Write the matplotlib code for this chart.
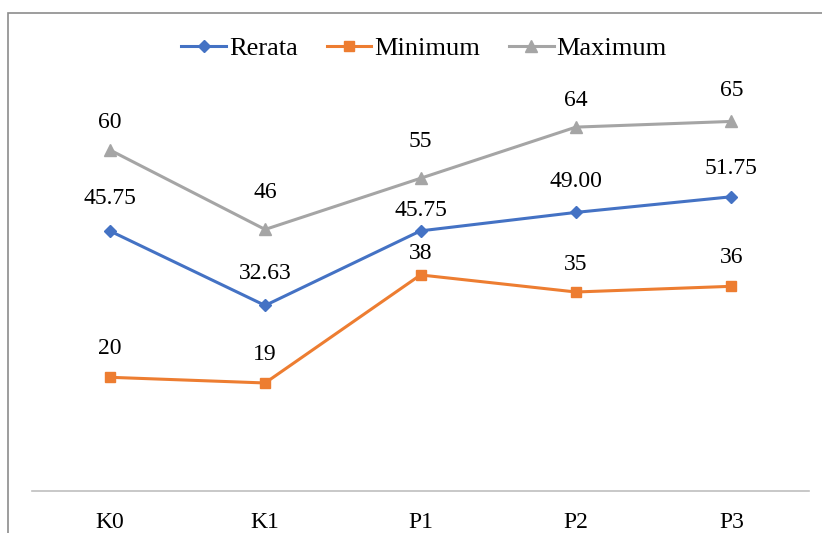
import matplotlib.pyplot as plt
from matplotlib.patches import Rectangle

categories = ["K0", "K1", "P1", "P2", "P3"]
rerata = [45.75, 32.63, 45.75, 49.00, 51.75]
minimum = [20, 19, 38, 35, 36]
maximum = [60, 46, 55, 64, 65]

rerata_labels = ["45.75", "32.63", "45.75", "49.00", "51.75"]
minimum_labels = ["20", "19", "38", "35", "36"]
maximum_labels = ["60", "46", "55", "64", "65"]

# label offsets above the points (in pixels), hand-placed in the original
rerata_off = [32, 32, 20, 31, 28]
minimum_off = [29, 28, 21, 27, 29]
maximum_off = [27, 37, 37, 27, 31]

plt.rcParams["font.family"] = ["Liberation Serif", "DejaVu Serif"]

fig = plt.figure(figsize=(8.22, 5.33), dpi=100)
ax = fig.add_axes([32 / 822, 1 - 491 / 533, (809 - 32) / 822, (491 - 93) / 533])

x = list(range(len(categories)))
series = [
    ("Rerata", rerata, rerata_labels, rerata_off, "#4472C4", "D", 6),
    ("Minimum", minimum, minimum_labels, minimum_off, "#ED7D31", "s", 7.5),
    ("Maximum", maximum, maximum_labels, maximum_off, "#A5A5A5", "^", 8),
]
for name, vals, labels, offs, color, marker, ms in series:
    ax.plot(x, vals, color=color, lw=2.2, marker=marker, markersize=ms,
            label=name, zorder=3)
    for xi, v, lab, off in zip(x, vals, labels, offs):
        ax.annotate(lab, (xi, v), xytext=(0, off * 0.72),
                    textcoords="offset points", ha="center", va="center",
                    fontsize=17, color="black")

ax.set_xlim(-0.5, 4.5)
ax.set_ylim(0, 70)
ax.set_xticks(x)
ax.set_xticklabels(categories, fontsize=17)
ax.tick_params(axis="x", length=0, pad=15)
ax.set_yticks([])
for side in ["top", "right", "left"]:
    ax.spines[side].set_visible(False)
ax.spines["bottom"].set_color("#BFBFBF")
ax.spines["bottom"].set_linewidth(1.2)

fig.legend(loc="center", bbox_to_anchor=(424 / 822, 1 - 48 / 533), ncol=3,
           frameon=False, fontsize=19, handlelength=1.7, handletextpad=0.1,
           columnspacing=1.1)

# outer chart border (top and left visible)
fig.patches.append(Rectangle((8 / 822, -0.1), 1.2, 0.1 + 1 - 13 / 533,
                             transform=fig.transFigure, fill=False,
                             edgecolor="#8C8C8C", lw=1.2))

fig.savefig("out.png", dpi=100)
